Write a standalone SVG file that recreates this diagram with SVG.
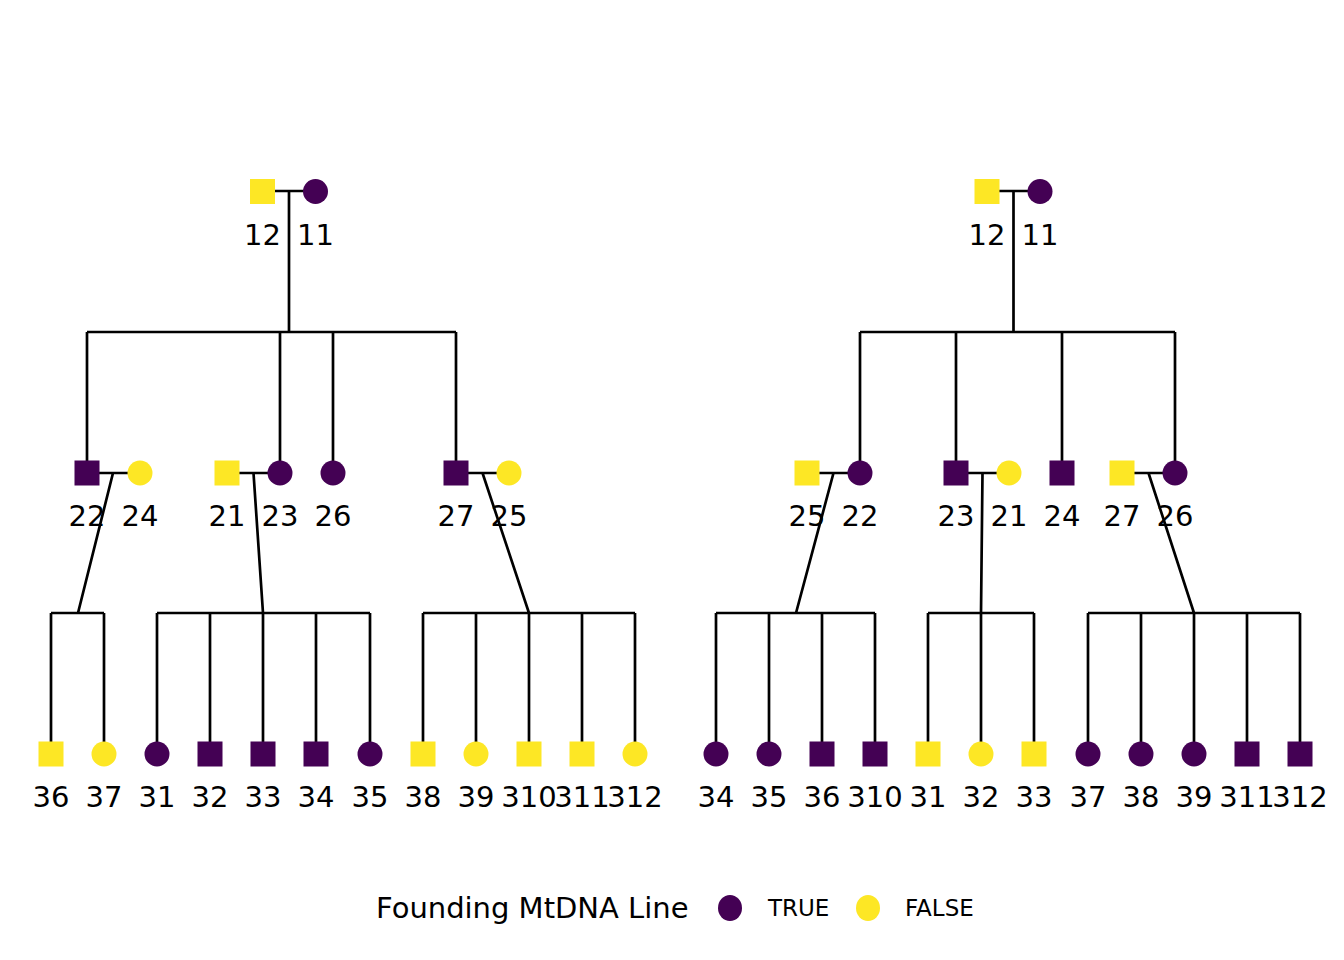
<svg xmlns="http://www.w3.org/2000/svg" width="1344" height="960" viewBox="0 0 1344 960">
<defs>
<style>
.ln{stroke:#000;stroke-width:2.7;fill:none;stroke-linecap:butt}
.T{fill:#440154}
.F{fill:#FDE725}
.lb{font-family:"DejaVu Sans",sans-serif;font-size:29px;text-anchor:middle;fill:#000}
.lg{font-family:"DejaVu Sans",sans-serif;font-size:23px;fill:#000}
</style>
</defs>
<rect width="1344" height="960" fill="#fff"/>
<g id="connectors">
<!-- left panel -->
<path class="ln" d="M262 191H315M289 191V332M87 332H456M87 332V473M280 332V473M333 332V473M456 332V473"/>
<path class="ln" d="M87 473H140M113 473L78 613M51 613H104M51 613V754M104 613V754"/>
<path class="ln" d="M227 473H280M253.5 473L263 613M157 613H370M157 613V754M210 613V754M263 613V754M316 613V754M370 613V754"/>
<path class="ln" d="M456 473H509M482.5 473L529 613M423 613H635M423 613V754M476 613V754M529 613V754M582 613V754M635 613V754"/>
<!-- right panel -->
<path class="ln" d="M987 191H1040M1013.5 191V332M860 332H1175M860 332V473M956 332V473M1062 332V473M1175 332V473"/>
<path class="ln" d="M807 473H860M833.5 473L796 613M716 613H875M716 613V754M769 613V754M822 613V754M875 613V754"/>
<path class="ln" d="M956 473H1009M982.5 473L981 613M928 613H1034M928 613V754M981 613V754M1034 613V754"/>
<path class="ln" d="M1122 473H1175M1148.5 473L1194 613M1088 613H1300M1088 613V754M1141 613V754M1194 613V754M1247 613V754M1300 613V754"/>
</g>
<!-- left panel nodes -->
<g id="L12"><rect class="F" x="250" y="179" width="25" height="25"/><text class="lb" x="262.5" y="245">12</text></g>
<g id="L11"><circle class="T" cx="315.5" cy="191.5" r="12.5"/><text class="lb" x="315.5" y="245">11</text></g>
<g id="L22"><rect class="T" x="74.5" y="460.5" width="25" height="25"/><text class="lb" x="87" y="526">22</text></g>
<g id="L24"><circle class="F" cx="140" cy="473" r="12.5"/><text class="lb" x="140" y="526">24</text></g>
<g id="L21"><rect class="F" x="214.5" y="460.5" width="25" height="25"/><text class="lb" x="227" y="526">21</text></g>
<g id="L23"><circle class="T" cx="280" cy="473" r="12.5"/><text class="lb" x="280" y="526">23</text></g>
<g id="L26"><circle class="T" cx="333" cy="473" r="12.5"/><text class="lb" x="333" y="526">26</text></g>
<g id="L27"><rect class="T" x="443.5" y="460.5" width="25" height="25"/><text class="lb" x="456" y="526">27</text></g>
<g id="L25"><circle class="F" cx="509" cy="473" r="12.5"/><text class="lb" x="509" y="526">25</text></g>
<g id="L36"><rect class="F" x="38.5" y="741.5" width="25" height="25"/><text class="lb" x="51" y="807">36</text></g>
<g id="L37"><circle class="F" cx="104" cy="754" r="12.5"/><text class="lb" x="104" y="807">37</text></g>
<g id="L31"><circle class="T" cx="157" cy="754" r="12.5"/><text class="lb" x="157" y="807">31</text></g>
<g id="L32"><rect class="T" x="197.5" y="741.5" width="25" height="25"/><text class="lb" x="210" y="807">32</text></g>
<g id="L33"><rect class="T" x="250.5" y="741.5" width="25" height="25"/><text class="lb" x="263" y="807">33</text></g>
<g id="L34"><rect class="T" x="303.5" y="741.5" width="25" height="25"/><text class="lb" x="316" y="807">34</text></g>
<g id="L35"><circle class="T" cx="370" cy="754" r="12.5"/><text class="lb" x="370" y="807">35</text></g>
<g id="L38"><rect class="F" x="410.5" y="741.5" width="25" height="25"/><text class="lb" x="423" y="807">38</text></g>
<g id="L39"><circle class="F" cx="476" cy="754" r="12.5"/><text class="lb" x="476" y="807">39</text></g>
<g id="L310"><rect class="F" x="516.5" y="741.5" width="25" height="25"/><text class="lb" x="529" y="807">310</text></g>
<g id="L311"><rect class="F" x="569.5" y="741.5" width="25" height="25"/><text class="lb" x="582" y="807">311</text></g>
<g id="L312"><circle class="F" cx="635" cy="754" r="12.5"/><text class="lb" x="635" y="807">312</text></g>
<!-- right panel nodes -->
<g id="R12"><rect class="F" x="974.5" y="179" width="25" height="25"/><text class="lb" x="987" y="245">12</text></g>
<g id="R11"><circle class="T" cx="1040" cy="191.5" r="12.5"/><text class="lb" x="1040" y="245">11</text></g>
<g id="R25"><rect class="F" x="794.5" y="460.5" width="25" height="25"/><text class="lb" x="807" y="526">25</text></g>
<g id="R22"><circle class="T" cx="860" cy="473" r="12.5"/><text class="lb" x="860" y="526">22</text></g>
<g id="R23"><rect class="T" x="943.5" y="460.5" width="25" height="25"/><text class="lb" x="956" y="526">23</text></g>
<g id="R21"><circle class="F" cx="1009" cy="473" r="12.5"/><text class="lb" x="1009" y="526">21</text></g>
<g id="R24"><rect class="T" x="1049.5" y="460.5" width="25" height="25"/><text class="lb" x="1062" y="526">24</text></g>
<g id="R27"><rect class="F" x="1109.5" y="460.5" width="25" height="25"/><text class="lb" x="1122" y="526">27</text></g>
<g id="R26"><circle class="T" cx="1175" cy="473" r="12.5"/><text class="lb" x="1175" y="526">26</text></g>
<g id="R34"><circle class="T" cx="716" cy="754" r="12.5"/><text class="lb" x="716" y="807">34</text></g>
<g id="R35"><circle class="T" cx="769" cy="754" r="12.5"/><text class="lb" x="769" y="807">35</text></g>
<g id="R36"><rect class="T" x="809.5" y="741.5" width="25" height="25"/><text class="lb" x="822" y="807">36</text></g>
<g id="R310"><rect class="T" x="862.5" y="741.5" width="25" height="25"/><text class="lb" x="875" y="807">310</text></g>
<g id="R31"><rect class="F" x="915.5" y="741.5" width="25" height="25"/><text class="lb" x="928" y="807">31</text></g>
<g id="R32"><circle class="F" cx="981" cy="754" r="12.5"/><text class="lb" x="981" y="807">32</text></g>
<g id="R33"><rect class="F" x="1021.5" y="741.5" width="25" height="25"/><text class="lb" x="1034" y="807">33</text></g>
<g id="R37"><circle class="T" cx="1088" cy="754" r="12.5"/><text class="lb" x="1088" y="807">37</text></g>
<g id="R38"><circle class="T" cx="1141" cy="754" r="12.5"/><text class="lb" x="1141" y="807">38</text></g>
<g id="R39"><circle class="T" cx="1194" cy="754" r="12.5"/><text class="lb" x="1194" y="807">39</text></g>
<g id="R311"><rect class="T" x="1234.5" y="741.5" width="25" height="25"/><text class="lb" x="1247" y="807">311</text></g>
<g id="R312"><rect class="T" x="1287.5" y="741.5" width="25" height="25"/><text class="lb" x="1300" y="807">312</text></g>
<!-- legend -->
<g id="legend">
<text class="lg" x="376" y="918" style="font-size:29px">Founding MtDNA Line</text>
<ellipse class="T" cx="730" cy="908" rx="12" ry="13"/>
<text class="lg" x="768" y="916">TRUE</text>
<ellipse class="F" cx="868" cy="908" rx="12" ry="13"/>
<text class="lg" x="905" y="916">FALSE</text>
</g>
</svg>
